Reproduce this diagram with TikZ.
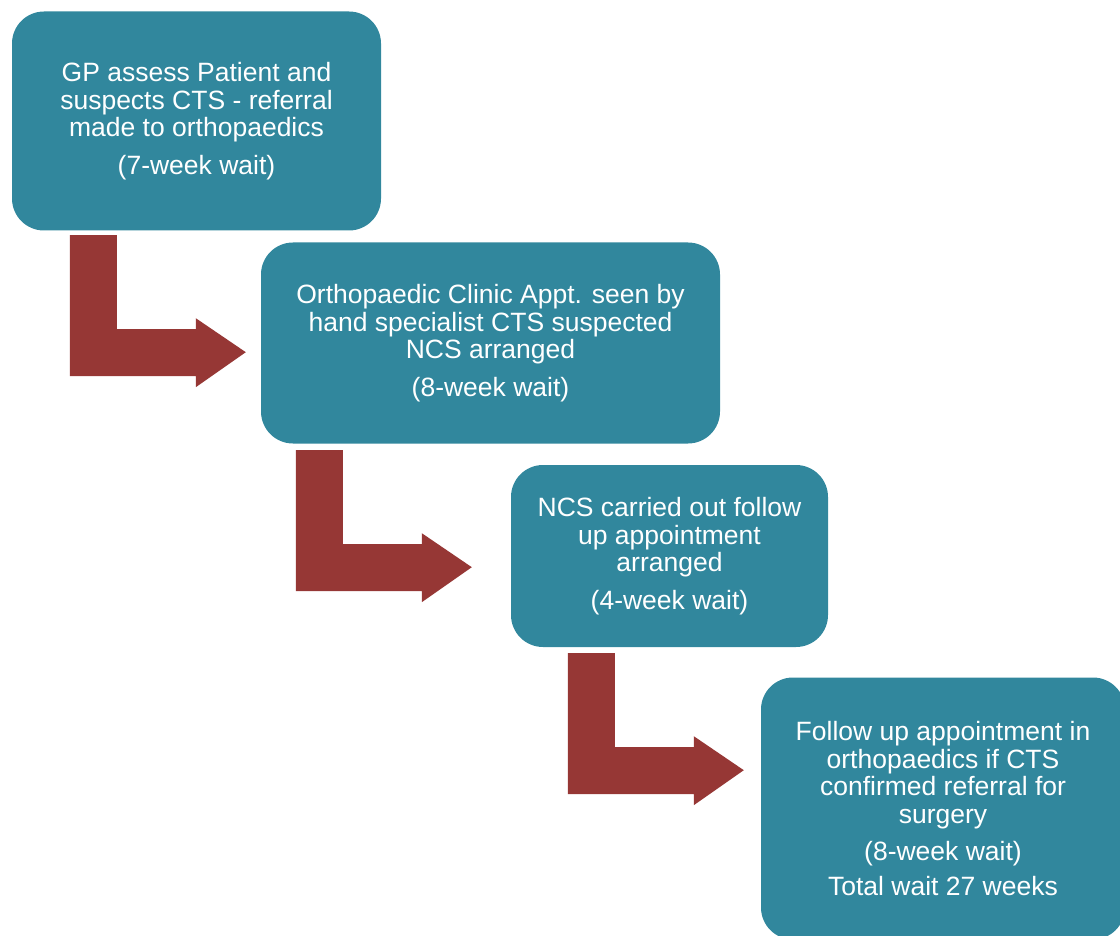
\documentclass[tikz,border=0pt]{standalone}
\usepackage{fontspec}
\setmainfont{Liberation Sans}
\usepackage{tikz}
\usetikzlibrary{calc}
\definecolor{boxteal}{RGB}{49,135,157}
\definecolor{arrowred}{RGB}{150,55,53}

\begin{document}
\begin{tikzpicture}[x=1pt, y=-1pt,
  stage/.style={rectangle, rounded corners=32pt, fill=boxteal, text=white,
    align=center, inner sep=0pt, font=\fontsize{26.5}{27.5}\selectfont},
  bentarrow/.pic={\fill [arrowred] (0,0) -- (47,0) -- (47,94) -- (126,94)
    -- (126,83) -- (176,117) -- (126,152) -- (126,141) -- (0,141) -- cycle;}]
\clip (0,0) rectangle (1120,936);
% Stages
\node [stage, minimum width=369pt, minimum height=219pt] (gp) at (196.5,121)
  {GP assess Patient and\\suspects CTS - referral\\made to orthopaedics\\[10pt](7-week wait)};
\node [stage, minimum width=459pt, minimum height=201pt] (clinic) at (490.5,343)
  {Orthopaedic Clinic Appt. seen by\\hand specialist CTS suspected\\NCS arranged\\[10pt](8-week wait)};
\node [stage, minimum width=317pt, minimum height=182pt] (ncs) at (669.5,556)
  {NCS carried out follow\\up appointment\\arranged\\[10pt](4-week wait)};
\node [stage, minimum width=364pt, minimum height=262pt] (followup) at (943,808.5)
  {Follow up appointment in\\orthopaedics if CTS\\confirmed referral for\\surgery\\[10pt](8-week wait)\\[7pt]Total wait 27 weeks};
% Arrows
\pic at ($(gp.south west)+(58,4.5)$) {bentarrow};
\pic at ($(clinic.south west)+(35,6.5)$) {bentarrow};
\pic at ($(ncs.south west)+(57,6)$) {bentarrow};
\end{tikzpicture}
\end{document}
